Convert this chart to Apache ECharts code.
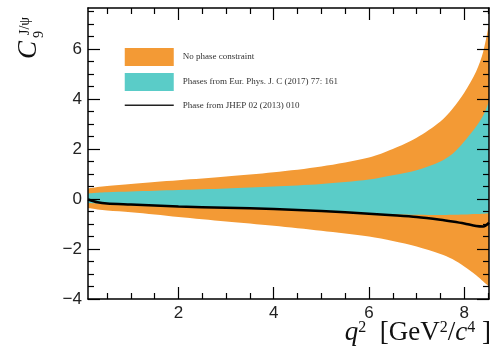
<!DOCTYPE html>
<html>
<head>
<meta charset="utf-8">
<script src="https://cdn.jsdelivr.net/npm/echarts@6/dist/echarts.min.js"></script>
<style>
  html, body { margin: 0; padding: 0; background: #fff; }
  #chart { width: 493px; height: 358px; }
</style>
</head>
<body>
<div id="chart"></div>
<script>
// q^2 sampling points (GeV^2/c^4)
const q2 = [0.1, 0.3, 0.5, 1, 1.5, 2, 3, 4, 5, 6, 6.5, 7, 7.5, 7.75, 8, 8.25, 8.4, 8.52];
// no phase constraint band
const orangeHi = [0.42, 0.48, 0.52, 0.6, 0.68, 0.75, 0.9, 1.07, 1.3, 1.66, 2.0, 2.45, 3.1, 3.6, 4.25, 5.1, 5.9, 7.0];
const orangeLo = [-0.36, -0.42, -0.46, -0.53, -0.62, -0.72, -0.9, -1.07, -1.27, -1.5, -1.68, -1.9, -2.2, -2.4, -2.7, -3.05, -3.3, -3.5];
// phases from EPJC band
const tealHi = [0.22, 0.25, 0.27, 0.3, 0.33, 0.36, 0.42, 0.5, 0.6, 0.78, 0.95, 1.15, 1.5, 1.8, 2.3, 2.9, 3.35, 3.9];
const tealLo = [-0.16, -0.18, -0.2, -0.24, -0.28, -0.31, -0.36, -0.41, -0.49, -0.58, -0.61, -0.63, -0.64, -0.63, -0.62, -0.6, -0.59, -0.57];
// phase from JHEP
const jhepLine = [-0.02, -0.13, -0.18, -0.22, -0.26, -0.3, -0.35, -0.4, -0.48, -0.59, -0.65, -0.72, -0.83, -0.9, -0.98, -1.08, -1.1, -0.95];

const legendNames = ['No phase constraint', 'Phases from Eur. Phys. J. C (2017) 77: 161', 'Phase from JHEP 02 (2013) 010'];
const xMajor = [2, 4, 6, 8];
const xMinor = [0.5, 1, 1.5, 2.5, 3, 3.5, 4.5, 5, 5.5, 6.5, 7, 7.5, 8.5];
const yMajor = [-4, -2, 0, 2, 4, 6];
const yMinor = [-3.5, -3, -2.5, -1.5, -1, -0.5, 0.5, 1, 1.5, 2.5, 3, 3.5, 4.5, 5, 5.5, 6.5, 7, 7.5];

const ORANGE = '#f39a35';
const TEAL = '#5accc8';
const SERIF = 'Liberation Serif';
const SANS = 'Liberation Sans';

const pts = (ys) => q2.map((x, i) => [x, ys[i]]);

// one axis per side, ticks pointing inwards; drawn above the filled bands
function xAx(pos, ticks, len, labels) {
  return {
    type: 'value', position: pos, min: 0.1, max: 8.52, z: 10,
    axisLine: { show: len > 8, onZero: false, lineStyle: { color: '#000', width: 1.5 } },
    axisTick: { show: true, inside: true, length: len, customValues: ticks, lineStyle: { color: '#000', width: 1.2 } },
    axisLabel: labels ? { show: true, customValues: ticks, margin: 6, color: '#222', fontSize: 17, fontFamily: SANS } : { show: false },
    splitLine: { show: false }
  };
}
function yAx(pos, ticks, len, labels) {
  return {
    type: 'value', position: pos, min: -4, max: 7.64, z: 10,
    axisLine: { show: len > 8, onZero: false, lineStyle: { color: '#000', width: 1.5 } },
    axisTick: { show: true, inside: true, length: len, customValues: ticks, lineStyle: { color: '#000', width: 1.2 } },
    axisLabel: labels ? {
      show: true, customValues: ticks, margin: 6, color: '#222', fontSize: 17, fontFamily: SANS,
      formatter: (v) => (v < 0 ? '\u2212' + Math.abs(v) : String(v))
    } : { show: false },
    splitLine: { show: false }
  };
}

// filled area from a curve down to the bottom of the plot; later ones paint over earlier ones
function fill(name, ys, color) {
  return {
    type: 'line', name: name, data: pts(ys), symbol: 'none', smooth: 0.3, silent: true,
    color: color, itemStyle: { color: color },
    lineStyle: { width: 0, opacity: 0 },
    areaStyle: { color: color, opacity: 1, origin: 'start' }
  };
}

const chart = echarts.init(document.getElementById('chart'));

const option = {
  animation: false,
  grid: { left: 88, right: 4, top: 8, bottom: 59, outerBoundsMode: 'none' },
  xAxis: [
    xAx('bottom', xMajor, 12, true),
    xAx('bottom', xMinor, 6, false),
    xAx('top', xMajor, 12, false),
    xAx('top', xMinor, 6, false)
  ],
  yAxis: [
    yAx('left', yMajor, 12, true),
    yAx('left', yMinor, 6, false),
    yAx('right', yMajor, 12, false),
    yAx('right', yMinor, 6, false)
  ],
  legend: {
    orient: 'vertical', left: 124, top: 48, padding: 0,
    itemWidth: 49, itemHeight: 18, itemGap: 7,
    selectedMode: false,
    textStyle: { fontFamily: SERIF, fontSize: 9, color: '#333', padding: [0, 0, 0, 4] },
    data: [
      { name: legendNames[0], icon: 'rect' },
      { name: legendNames[1], icon: 'rect' },
      // line only, hide the symbol in the middle
      { name: legendNames[2], itemStyle: { opacity: 0 }, lineStyle: { width: 1.5, color: '#222' } }
    ]
  },
  series: [
    fill(legendNames[0], orangeHi, ORANGE),
    fill(legendNames[1], tealHi, TEAL),
    fill('tealLower', tealLo, ORANGE),
    fill('orangeLower', orangeLo, '#fff'),
    {
      type: 'line', name: legendNames[2], data: pts(jhepLine),
      symbol: 'none', smooth: 0.3, silent: true,
      color: '#000', lineStyle: { color: '#000', width: 2.5 }
    }
  ],
  graphic: [
    // x axis title
    {
      type: 'text', x: 491, y: 333,
      style: {
        text: '{i|q}{s|2}  [GeV{s|2}/{i|c}{s|4} ]',
        align: 'right', verticalAlign: 'middle',
        fontFamily: SERIF, fontSize: 27, fill: '#111',
        rich: {
          i: { fontFamily: SERIF, fontStyle: 'italic', fontSize: 27, fill: '#111' },
          s: { fontFamily: SERIF, fontSize: 16, verticalAlign: 'top', fill: '#111' }
        }
      }
    },
    // y axis title, rotated
    {
      type: 'text', x: 29, y: 59, rotation: Math.PI / 2,
      style: { text: 'C', align: 'left', verticalAlign: 'middle', fontFamily: SERIF, fontStyle: 'italic', fontSize: 27, fill: '#111' }
    },
    {
      type: 'text', x: 39, y: 38, rotation: Math.PI / 2,
      style: { text: '9', align: 'left', verticalAlign: 'middle', fontFamily: SERIF, fontSize: 14, fill: '#111' }
    },
    {
      type: 'text', x: 25, y: 35, rotation: Math.PI / 2,
      style: { text: 'J/\u03c8', align: 'left', verticalAlign: 'middle', fontFamily: SERIF, fontSize: 14, fill: '#111' }
    }
  ]
};

chart.setOption(option);
</script>
</body>
</html>
